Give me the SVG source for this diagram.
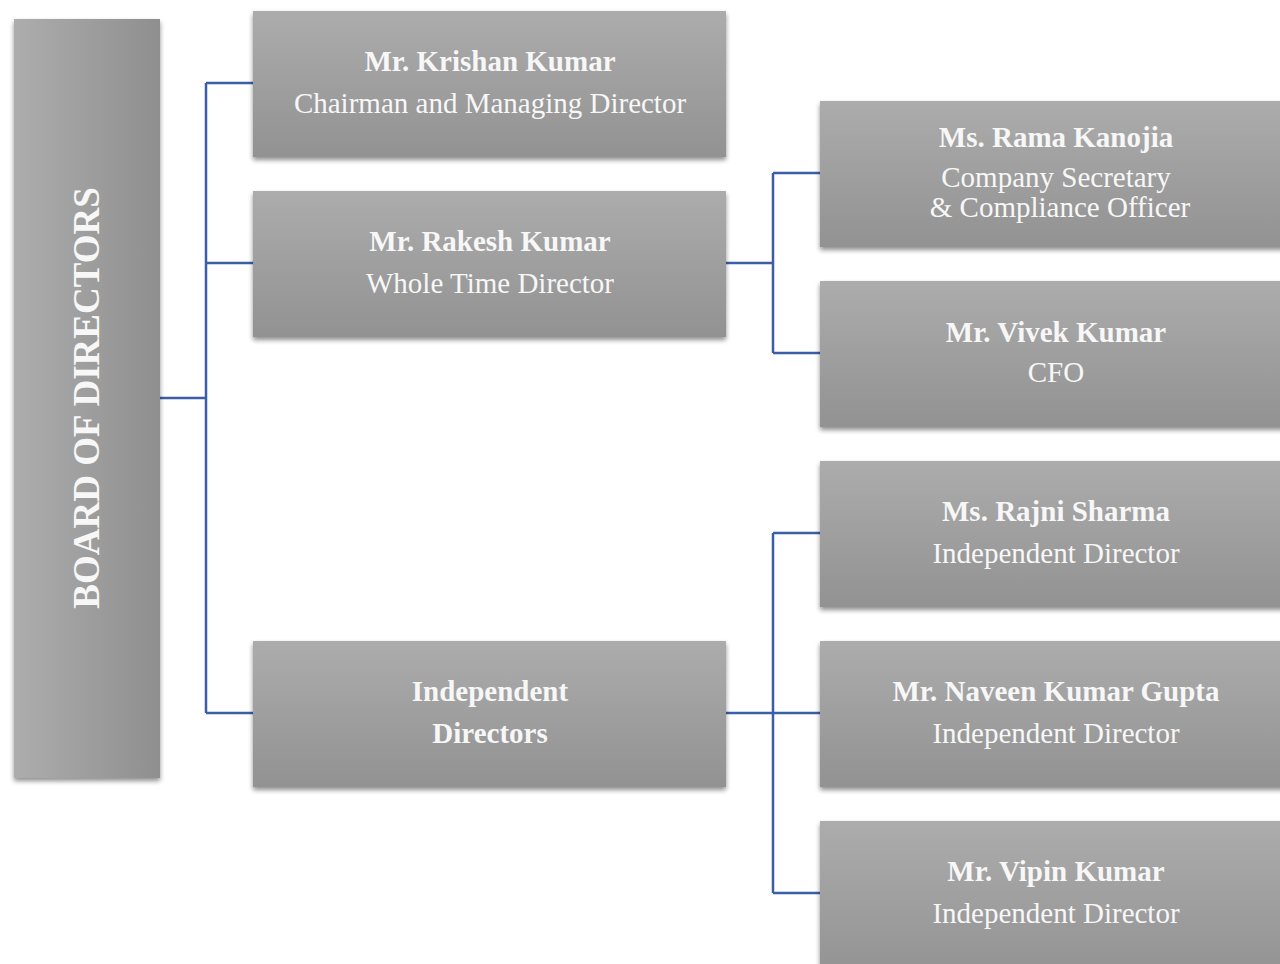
<svg xmlns="http://www.w3.org/2000/svg" width="1280" height="964" viewBox="0 0 1280 964">
<defs>
<linearGradient id="gv" x1="0" y1="0" x2="0" y2="1">
<stop offset="0" stop-color="#acacac"/>
<stop offset="1" stop-color="#929292"/>
</linearGradient>
<linearGradient id="gh" x1="0" y1="0" x2="1" y2="0">
<stop offset="0" stop-color="#adadad"/>
<stop offset="1" stop-color="#8f8f8f"/>
</linearGradient>
<filter id="sh" x="-10%" y="-10%" width="120%" height="125%">
<feGaussianBlur in="SourceAlpha" stdDeviation="2.5"/>
<feOffset dx="0" dy="3" result="b"/>
<feComponentTransfer><feFuncA type="linear" slope="0.45"/></feComponentTransfer>
<feMerge><feMergeNode/><feMergeNode in="SourceGraphic"/></feMerge>
</filter>
</defs>
<style>
.box{fill:url(#gv);filter:url(#sh)}
.t{font-family:"Liberation Serif","Times New Roman",serif;fill:#f7f7f7;text-anchor:middle}
.n{font-weight:bold;font-size:29px}
.s{font-size:29px}
.c{fill:none;stroke:#3a5ea8;stroke-width:2.5}
</style>
<g id="connectors">
<path class="c" d="M160,398 H206 M206,83 V713 M206,83 H253 M206,263 H253 M206,713 H253"/>
<path class="c" d="M726,263 H773 M773,173 V353 M773,173 H820 M773,353 H820"/>
<path class="c" d="M726,713 H773 M773,533 V893 M773,533 H820 M773,713 H820 M773,893 H820"/>
</g>
<g id="board">
<rect x="14" y="19" width="146" height="759" fill="url(#gh)" filter="url(#sh)"/>
<text class="t" transform="translate(99,398) rotate(-90)" font-weight="bold" font-size="37">BOARD OF DIRECTORS</text>
</g>
<g id="krishan">
<rect class="box" x="253" y="11" width="473" height="146"/>
<text class="t n" x="490" y="71">Mr. Krishan Kumar</text>
<text class="t s" x="490" y="113">Chairman and Managing Director</text>
</g>
<g id="rakesh">
<rect class="box" x="253" y="191" width="473" height="146"/>
<text class="t n" x="490" y="251">Mr. Rakesh Kumar</text>
<text class="t s" x="490" y="293">Whole Time Director</text>
</g>
<g id="independent">
<rect class="box" x="253" y="641" width="473" height="146"/>
<text class="t n" x="490" y="701">Independent</text>
<text class="t n" x="490" y="743">Directors</text>
</g>
<g id="rama">
<rect class="box" x="820" y="101" width="480" height="146"/>
<text class="t n" x="1056" y="147" font-size="27">Ms. Rama Kanojia</text>
<text class="t s" x="1056" y="187" font-size="27.5">Company Secretary</text>
<text class="t s" x="1060" y="217" font-size="27.5">&amp; Compliance Officer</text>
</g>
<g id="vivek">
<rect class="box" x="820" y="281" width="480" height="146"/>
<text class="t n" x="1056" y="342">Mr. Vivek Kumar</text>
<text class="t s" x="1056" y="382">CFO</text>
</g>
<g id="rajni">
<rect class="box" x="820" y="461" width="480" height="146"/>
<text class="t n" x="1056" y="521">Ms. Rajni Sharma</text>
<text class="t s" x="1056" y="563">Independent Director</text>
</g>
<g id="naveen">
<rect class="box" x="820" y="641" width="480" height="146"/>
<text class="t n" x="1056" y="701">Mr. Naveen Kumar Gupta</text>
<text class="t s" x="1056" y="743">Independent Director</text>
</g>
<g id="vipin">
<rect class="box" x="820" y="821" width="480" height="160"/>
<text class="t n" x="1056" y="881">Mr. Vipin Kumar</text>
<text class="t s" x="1056" y="923">Independent Director</text>
</g>
</svg>
